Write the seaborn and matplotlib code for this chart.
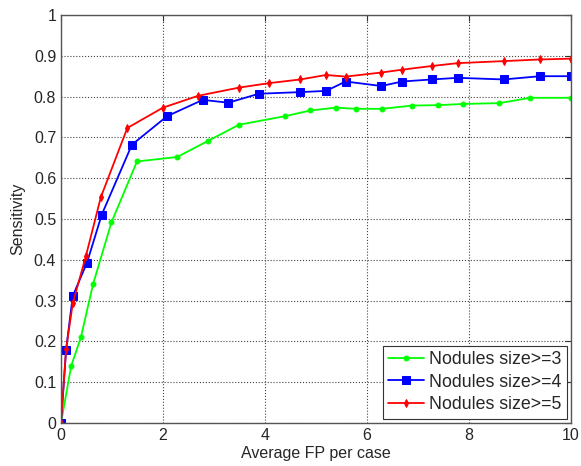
import matplotlib
matplotlib.use("Agg")
import matplotlib.pyplot as plt
import numpy as np
import pandas as pd
import seaborn as sns

# values
fp_3 = [0, 0.2, 0.39, 0.63, 0.99, 1.49, 2.28, 2.89, 3.49, 4.39, 4.89, 5.39,
        5.78, 6.29, 6.88, 7.39, 7.89, 8.59, 9.2, 10.0]
sens_3 = [0, 0.14, 0.21, 0.341, 0.492, 0.641, 0.652, 0.692, 0.731, 0.752, 0.766,
          0.773, 0.770, 0.770, 0.778, 0.779, 0.782, 0.784, 0.797, 0.797]

fp_4 = [0, 0.1, 0.23, 0.51, 0.8, 1.39, 2.08, 2.78, 3.28, 3.88, 4.69, 5.2,
        5.58, 6.28, 6.69, 7.27, 7.78, 8.68, 9.39, 10.0]
sens_4 = [0, 0.18, 0.311, 0.393, 0.511, 0.682, 0.752, 0.792, 0.785, 0.807, 0.811,
          0.814, 0.837, 0.826, 0.837, 0.842, 0.846, 0.842, 0.850, 0.850]

fp_5 = [0, 0.1, 0.23, 0.49, 0.78, 1.3, 2.0, 2.69, 3.49, 4.08, 4.69, 5.2,
        5.58, 6.28, 6.69, 7.27, 7.78, 8.68, 9.39, 10.0]
sens_5 = [0, 0.181, 0.293, 0.41, 0.553, 0.723, 0.773, 0.802, 0.822, 0.833, 0.842,
          0.853, 0.849, 0.859, 0.866, 0.875, 0.882, 0.887, 0.891, 0.893]

labels = ["Nodules size>=3", "Nodules size>=4", "Nodules size>=5"]

sns.set_style("white")
plt.rcParams["font.family"] = ["Liberation Sans", "DejaVu Sans"]

fig = plt.figure(figsize=(5.81, 4.66), dpi=100)
ax = fig.add_axes([61 / 581, 1 - 423 / 466, 510 / 581, 408 / 466])

series = [
    (fp_3, sens_3, "#00ff00", "o", 3.5),
    (fp_4, sens_4, "#0000ff", "s", 5.5),
    (fp_5, sens_5, "#ff0000", "d", 4),
]
for (x, y, color, marker, ms), label in zip(series, labels):
    df = pd.DataFrame({"fp": x, "sens": y})
    sns.lineplot(data=df, x="fp", y="sens", ax=ax, color=color, marker=marker,
                 markersize=ms, markeredgecolor=color, linewidth=1.3,
                 label=label, sort=False)

ax.set_xlim(0, 10)
ax.set_ylim(0, 1)
ax.set_xticks(np.arange(0, 11, 2))
ax.set_yticks(np.arange(0, 1.01, 0.1))
ax.set_yticklabels(["0", "0.1", "0.2", "0.3", "0.4", "0.5", "0.6", "0.7", "0.8", "0.9", "1"])
ax.grid(True, linestyle=":", color="#444444", linewidth=0.8)
ax.tick_params(direction="in", length=4, labelsize=11.5, top=True, right=True,
               color="#333333")
for s in ax.spines.values():
    s.set_color("#555555")
    s.set_linewidth(1)
ax.set_xlabel("Average FP per case", fontsize=11.5, labelpad=2)
ax.set_ylabel("Sensitivity", fontsize=11.5, labelpad=6)

leg = ax.legend(loc="lower right", fontsize=12.8, frameon=True, fancybox=False,
                edgecolor="#333333", framealpha=1, handlelength=2.0,
                handletextpad=0.3, borderaxespad=0.25, borderpad=0.3,
                labelspacing=0.32)
leg.get_frame().set_linewidth(0.8)

fig.savefig("out.png", dpi=100)
